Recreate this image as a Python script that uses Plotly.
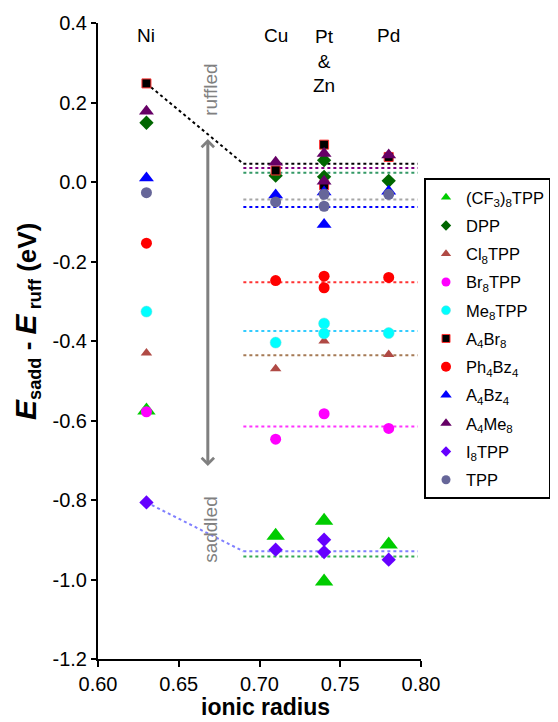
import plotly.graph_objects as go

# ---------------- data ----------------
FONT = "Arial, Liberation Sans, sans-serif"

series_names = ["(CF<sub>3</sub>)<sub>8</sub>TPP", "DPP", "Cl<sub>8</sub>TPP", "Br<sub>8</sub>TPP",
                "Me<sub>8</sub>TPP", "A<sub>4</sub>Br<sub>8</sub>", "Ph<sub>4</sub>Bz<sub>4</sub>",
                "A<sub>4</sub>Bz<sub>4</sub>", "A<sub>4</sub>Me<sub>8</sub>", "I<sub>8</sub>TPP", "TPP"]

cf3_x = [0.63, 0.71, 0.74, 0.74, 0.78]
cf3_y = [-0.575, -0.89, -0.852, -1.005, -0.912]
dpp_x = [0.63, 0.71, 0.74, 0.74, 0.78]
dpp_y = [0.149, 0.016, 0.055, 0.013, 0.003]
cl8_x = [0.63, 0.71, 0.74, 0.78]
cl8_y = [-0.43, -0.47, -0.40, -0.434]
br8_x = [0.63, 0.71, 0.74, 0.78]
br8_y = [-0.578, -0.647, -0.583, -0.62]
me8_x = [0.63, 0.71, 0.74, 0.74, 0.78]
me8_y = [-0.326, -0.404, -0.356, -0.381, -0.38]
a4br8_x = [0.63, 0.71, 0.74, 0.74, 0.78]
a4br8_y = [0.248, 0.029, 0.094, -0.008, 0.063]
ph4bz4_x = [0.63, 0.71, 0.74, 0.74, 0.78]
ph4bz4_y = [-0.154, -0.248, -0.237, -0.266, -0.24]
a4bz4_x = [0.63, 0.71, 0.74, 0.74, 0.78]
a4bz4_y = [0.01, -0.033, -0.025, -0.107, -0.023]
a4me8_x = [0.63, 0.71, 0.74, 0.74, 0.78]
a4me8_y = [0.178, 0.05, 0.072, 0.002, 0.068]
i8_x = [0.63, 0.71, 0.74, 0.74, 0.78]
i8_y = [-0.806, -0.925, -0.9, -0.931, -0.95]
tpp_x = [0.63, 0.71, 0.74, 0.74, 0.78]
tpp_y = [-0.027, -0.05, -0.031, -0.061, -0.031]

# dotted reference levels (start/end radius and level)
level_x = [0.69, 0.798]
level_values = {
    "A4Br8": 0.046, "A4Me8": 0.035, "DPP": 0.023, "TPP": -0.044, "A4Bz4": -0.063,
    "Ph4Bz4": -0.252, "Me8TPP": -0.375, "Cl8TPP": -0.436, "Br8TPP": -0.615,
    "I8TPP": -0.929, "CF3": -0.942,
}
level_colors = {
    "A4Br8": "#000000", "A4Me8": "#800080", "DPP": "#339966", "TPP": "#a6a6a6",
    "A4Bz4": "#0000ff", "Ph4Bz4": "#ff3333", "Me8TPP": "#33ccff", "Cl8TPP": "#a57a55",
    "Br8TPP": "#ff33ff", "I8TPP": "#8080ff", "CF3": "#33aa55",
}
# connecting lines from Ni values to the levels
link_ruffled_x = [0.63, 0.69]
link_ruffled_y = [0.248, 0.046]
link_saddled_x = [0.63, 0.69]
link_saddled_y = [-0.806, -0.929]

metal_labels = ["Ni", "Cu", "Pt<br>&<br>Zn", "Pd"]
metal_x = [0.63, 0.71, 0.74, 0.78]

x_ticks = [0.60, 0.65, 0.70, 0.75, 0.80]
y_ticks = [0.4, 0.2, 0.0, -0.2, -0.4, -0.6, -0.8, -1.0, -1.2]

# ---------------- figure ----------------
# the page body adds an 8 px offset, so the figure is 8 px smaller than the window
OFF = 8
W, H = 558 - OFF, 722 - OFF
L, R, T, B = 90, 137, 15, 63
PW, PH = W - L - R, H - T - B

fig = go.Figure()

for key, lv in level_values.items():
    fig.add_trace(go.Scatter(x=level_x, y=[lv, lv], mode="lines", showlegend=False, hoverinfo="skip",
                             line=dict(color=level_colors[key], width=2, dash="dot")))
fig.add_trace(go.Scatter(x=link_ruffled_x, y=link_ruffled_y, mode="lines", showlegend=False,
                         line=dict(color="#000000", width=2, dash="dot")))
fig.add_trace(go.Scatter(x=link_saddled_x, y=link_saddled_y, mode="lines", showlegend=False,
                         line=dict(color="#8080ff", width=2, dash="dot")))

styles = [
    (cf3_x, cf3_y, "triangle-up", "#00cc00", 16, "#00cc00", 0),
    (dpp_x, dpp_y, "diamond", "#006600", 11, "#006600", 0),
    (cl8_x, cl8_y, "triangle-up", "#b04a45", 10, "#b04a45", 0),
    (br8_x, br8_y, "circle", "#ff00ff", 11, "#ff00ff", 0),
    (me8_x, me8_y, "circle", "#00ffff", 11, "#66dddd", 0.5),
    (a4br8_x, a4br8_y, "square", "#000000", 9, "#ff3333", 1),
    (ph4bz4_x, ph4bz4_y, "circle", "#ff0000", 11, "#ff0000", 0),
    (a4bz4_x, a4bz4_y, "triangle-up", "#0000ff", 13, "#0000ff", 0),
    (a4me8_x, a4me8_y, "triangle-up", "#660066", 13, "#660066", 0),
    (i8_x, i8_y, "diamond", "#6600ff", 11, "#6600ff", 0),
    (tpp_x, tpp_y, "circle", "#666699", 11, "#666699", 0),
]
for (xs, ys, sym, col, sz, lc, lw) in styles:
    fig.add_trace(go.Scatter(x=xs, y=ys, mode="markers", showlegend=False,
                             marker=dict(symbol=sym, color=col, size=sz, line=dict(color=lc, width=lw))))

legend_sizes = [9, 8, 9, 9, 9, 8, 10, 10, 10, 8, 9]
for i, (name, (xs, ys, sym, col, sz, lc, lw)) in enumerate(zip(series_names, styles)):
    fig.add_trace(go.Scatter(x=[None], y=[None], mode="markers", name=name, legendgroup=f"g{i}",
                             marker=dict(symbol=sym, color=col, size=legend_sizes[i],
                                         line=dict(color=lc, width=lw))))

annotations = []
for lab, mx in zip(metal_labels, metal_x):
    annotations.append(dict(x=mx, y=0.368, xref="x", yref="y", text=lab, showarrow=False,
                            xanchor="center", yanchor="top" if "<br>" in lab else "middle",
                            yshift=12 if "<br>" in lab else 0,
                            font=dict(family=FONT, size=19, color="black")))
# double arrow
annotations.append(dict(x=0.668, y=0.108, ax=0.668, ay=-0.718, xref="x", yref="y", axref="x", ayref="y",
                        text="", showarrow=True, arrowside="end+start", arrowhead=4, startarrowhead=4,
                        arrowsize=0.8, startarrowsize=0.8, arrowwidth=3, arrowcolor="#808080"))
annotations.append(dict(x=0.670, y=0.232, xref="x", yref="y", text="ruffled", textangle=-90, showarrow=False,
                        xanchor="center", yanchor="middle",
                        font=dict(family=FONT, size=19, color="#808080")))
annotations.append(dict(x=0.670, y=-0.875, xref="x", yref="y", text="saddled", textangle=-90, showarrow=False,
                        xanchor="center", yanchor="middle",
                        font=dict(family=FONT, size=19, color="#808080")))


def px_to_paper(sx, sy):
    """screen pixel (window coords) -> paper fraction"""
    return (sx - OFF - L) / PW, (H - (sy - OFF) - B) / PH


tx, ty = px_to_paper(27, 322)
annotations.append(dict(x=tx, y=ty, xref="paper", yref="paper", showarrow=False, textangle=-90,
                        xanchor="center", yanchor="middle",
                        text="<b><i><span style='font-size:30px'>E</span></i><sub>sadd</sub> - "
                             "<i><span style='font-size:30px'>E</span></i><sub> ruff</sub> (eV)</b>",
                        font=dict(family=FONT, size=26, color="black")))
tx, ty = px_to_paper(265, 707)
annotations.append(dict(x=tx, y=ty, xref="paper", yref="paper", showarrow=False,
                        xanchor="center", yanchor="middle",
                        text="<b>ionic radius</b>", font=dict(family=FONT, size=23, color="black")))

fig.update_layout(
    width=W, height=H, template="none",
    margin=dict(l=L, r=R, t=T, b=B, autoexpand=False),
    paper_bgcolor="white", plot_bgcolor="white",
    font=dict(family=FONT, size=19, color="black"),
    annotations=annotations,
    legend=dict(xref="container", yref="container", x=(424 - OFF) / W, y=1 - (178 - OFF) / H,
                xanchor="left", yanchor="top", bgcolor="white",
                bordercolor="black", borderwidth=2, font=dict(family=FONT, size=16.5, color="black"),
                tracegroupgap=3.8, itemwidth=30),
    xaxis=dict(range=[0.60, 0.80], tickvals=x_ticks, ticktext=[f"{v:.2f}" for v in x_ticks],
               showgrid=False, zeroline=False, showline=True, linecolor="black", linewidth=2,
               ticks="outside", ticklen=6, tickwidth=2, tickcolor="black", automargin=False,
               tickfont=dict(family=FONT, size=20, color="black")),
    yaxis=dict(range=[-1.2, 0.4], tickvals=y_ticks, ticktext=[f"{v:.1f}" for v in y_ticks],
               showgrid=False, zeroline=False, showline=True, linecolor="black", linewidth=2,
               ticks="outside", ticklen=5, tickwidth=2, tickcolor="black", automargin=False,
               tickfont=dict(family=FONT, size=20, color="black")),
)

fig.write_html("out.html")
